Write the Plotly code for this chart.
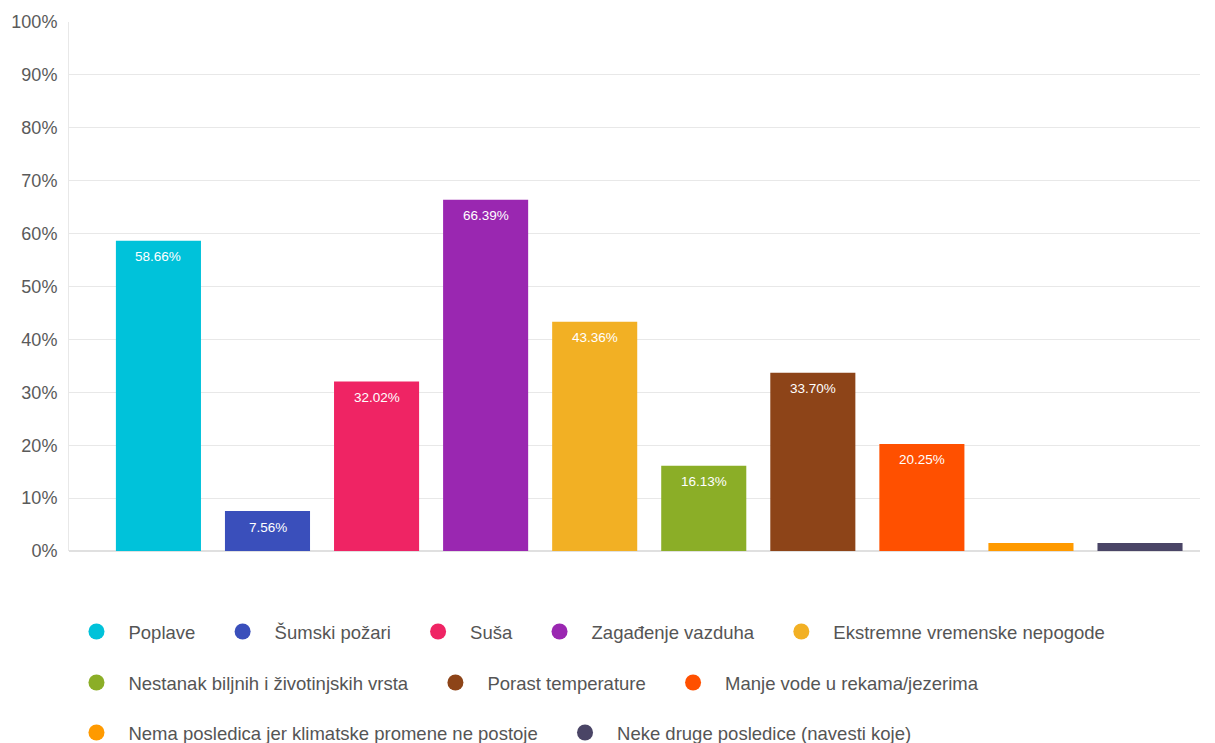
import plotly.graph_objects as go

categories = ["Poplave", "Šumski požari", "Suša", "Zagađenje vazduha",
              "Ekstremne vremenske nepogode", "Nestanak biljnih i životinjskih vrsta",
              "Porast temperature", "Manje vode u rekama/jezerima",
              "Nema posledica jer klimatske promene ne postoje",
              "Neke druge posledice (navesti koje)"]
values = [58.66, 7.56, 32.02, 66.39, 43.36, 16.13, 33.70, 20.25, 1.51, 1.51]
labels = ["58.66%", "7.56%", "32.02%", "66.39%", "43.36%", "16.13%", "33.70%", "20.25%", "", ""]
colors = ["#00C2DA", "#3A4FBB", "#EF2464", "#9A27B1", "#F2B024",
          "#8BAE27", "#8D4418", "#FF5000", "#FF9A00", "#4A4566"]
legend_rows = ["legend", "legend", "legend", "legend", "legend",
               "legend2", "legend2", "legend2", "legend3", "legend3"]
y_ticks = [0, 10, 20, 30, 40, 50, 60, 70, 80, 90, 100]
y_ticktext = [f"{t}%" for t in y_ticks]

FONT = "Liberation Sans, Arial, sans-serif"
fig = go.Figure()

fig.add_trace(go.Bar(
    x=list(range(len(categories))), y=values,
    marker=dict(color=colors, line=dict(width=0)),
    width=0.78, showlegend=False, hoverinfo="skip",
))

for i, (cat, col, lg) in enumerate(zip(categories, colors, legend_rows)):
    fig.add_trace(go.Scatter(
        x=[None], y=[None], mode="markers", name=cat + "\u00a0\u00a0",
        marker=dict(color=col, size=16, symbol="circle"),
        legend=lg, showlegend=True,
    ))

for i, (v, t) in enumerate(zip(values, labels)):
    if t:
        fig.add_annotation(x=i, y=v, text=t, showarrow=False, yshift=-16,
                           font=dict(family=FONT, size=13.5, color="white"))

legend_common = dict(orientation="h", xanchor="left", x=-0.004, yanchor="middle",
                     font=dict(family=FONT, size=18.5, color="#555555"),
                     itemsizing="trace", itemwidth=54, bgcolor="rgba(0,0,0,0)")

fig.update_layout(
    width=1215, height=743,
    margin=dict(l=69, r=15, t=22, b=192, autoexpand=False),
    plot_bgcolor="white", paper_bgcolor="white",
    xaxis=dict(range=[-0.82, 9.55], showticklabels=False, showgrid=False,
               zeroline=False, showline=False, fixedrange=True),
    yaxis=dict(range=[0, 100], tickvals=y_ticks, ticktext=y_ticktext,
               showgrid=True, gridcolor="#e8e8e8", gridwidth=1,
               zeroline=True, zerolinecolor="#e0e0e0",
               showline=True, linecolor="#e8e8e8",
               ticks="outside", ticklen=7, tickcolor="rgba(0,0,0,0)",
               tickfont=dict(family=FONT, size=18, color="#5a5a5a"),
               fixedrange=True),
    legend=dict(**legend_common, y=(551 - 632) / 529),
    legend2=dict(**legend_common, y=(551 - 683) / 529),
    legend3=dict(**legend_common, y=(551 - 733) / 529),
)

fig.write_html("out.html", config={"displayModeBar": False},
               post_script="document.body.style.margin='0';document.body.style.overflow='hidden';")
